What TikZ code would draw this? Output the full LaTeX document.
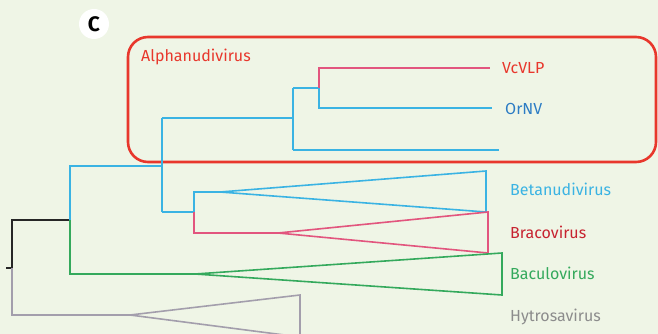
\documentclass[tikz,border=0pt]{standalone}
\usepackage{fontspec}
\setmainfont{Fira Sans}
\definecolor{bg}{HTML}{EFF5E6}
\definecolor{cblue}{HTML}{3AB3E3}
\definecolor{cpink}{HTML}{E2557E}
\definecolor{cgreen}{HTML}{34A95C}
\definecolor{cgray}{HTML}{A39EAC}
\definecolor{cred}{HTML}{E8372C}
\definecolor{tblue}{HTML}{2C7CC4}
\definecolor{tdred}{HTML}{C72330}
\definecolor{tgray}{HTML}{8C8C8C}
\begin{document}
\begin{tikzpicture}[x=1pt,y=-1pt,
  br/.style={line width=1.6pt, line join=miter},
  lab/.style={anchor=base west, font=\fontsize{16}{19}\selectfont, inner sep=0pt}]
\fill[bg] (0,0) rectangle (658,334);
\useasboundingbox (0,0) rectangle (658,334);
\clip (0,0) rectangle (658,334);

% panel letter
\node (cletter) [circle, fill=white, minimum size=30pt, inner sep=0pt,
  font=\bfseries\fontsize{21}{22}\selectfont] at (94,24) {C};

% Alphanudivirus box
\node (alphabox) [draw=cred, line width=2.6pt, rounded corners=20pt, outer sep=0pt,
  minimum width=528pt, minimum height=125pt, anchor=north west] at (128,37) {};
\node (alphalab) [lab, text=cred] at (141,62) {Alphanudivirus};

% tree coordinates
\coordinate (stub) at (6,268);
\coordinate (root) at (12,268);
\coordinate (n1) at (70,220);
\coordinate (n2) at (162,166);
\coordinate (nalpha) at (293,118);
\coordinate (nbb) at (194,212);
\coordinate (n3) at (319,88);
\coordinate (vc) at (490,68);
\coordinate (or) at (492,108);
\coordinate (third) at (499,150);
\coordinate (betaapex) at (220,192);
\coordinate (bracoapex) at (278,233);
\coordinate (bacuapex) at (195,274);
\coordinate (hytroapex) at (130,315);

% root
\draw[br, black!85, line width=2.2pt] (stub) -- (root) |- (n1);
\draw[br, cgray] (root) |- (hytroapex);
% blue backbone
\draw[br, cblue] (n1) |- (n2);
\draw[br, cblue] (n2 |- nalpha) -- (n2 |- nbb);
\draw[br, cblue] (n2 |- nalpha) -- (nalpha);
\draw[br, cblue] (n2 |- nbb) -- (nbb);
% green
\draw[br, cgreen] (n1) |- (bacuapex);
% alpha clade
\draw[br, cblue] (nalpha |- n3) -- (nalpha |- third);
\draw[br, cblue] (nalpha |- n3) -- (n3);
\draw[br, cblue] (nalpha |- third) -- (third);
\draw[br, cpink] (n3) |- (vc);
\draw[br, cblue] (n3) |- (or);
% beta / braco
\draw[br, cblue] (nbb) |- (betaapex);
\draw[br, cpink] (nbb) |- (bracoapex);

% collapsed clades
\draw[br, cblue] (betaapex) -- (486,171) -- (486,212) -- cycle;
\draw[br, cpink] (bracoapex) -- (488,212) -- (488,253) -- cycle;
\draw[br, cgreen] (bacuapex) -- (502,253) -- (502,295) -- cycle;
\draw[br, cgray] (hytroapex) -- (300,295) -- (300,337) -- cycle;

% labels
\node (vclab) [lab, text=cred] at (502,74) {VcVLP};
\node (orlab) [lab, text=tblue] at (505,114) {OrNV};
\node (betalab) [lab, text=cblue] at (510,195) {Betanudivirus};
\node (bracolab) [lab, text=tdred] at (510,238) {Bracovirus};
\node (baculab) [lab, text=cgreen] at (510,279) {Baculovirus};
\node (hytrolab) [lab, text=tgray] at (510,321) {Hytrosavirus};
\end{tikzpicture}
\end{document}
